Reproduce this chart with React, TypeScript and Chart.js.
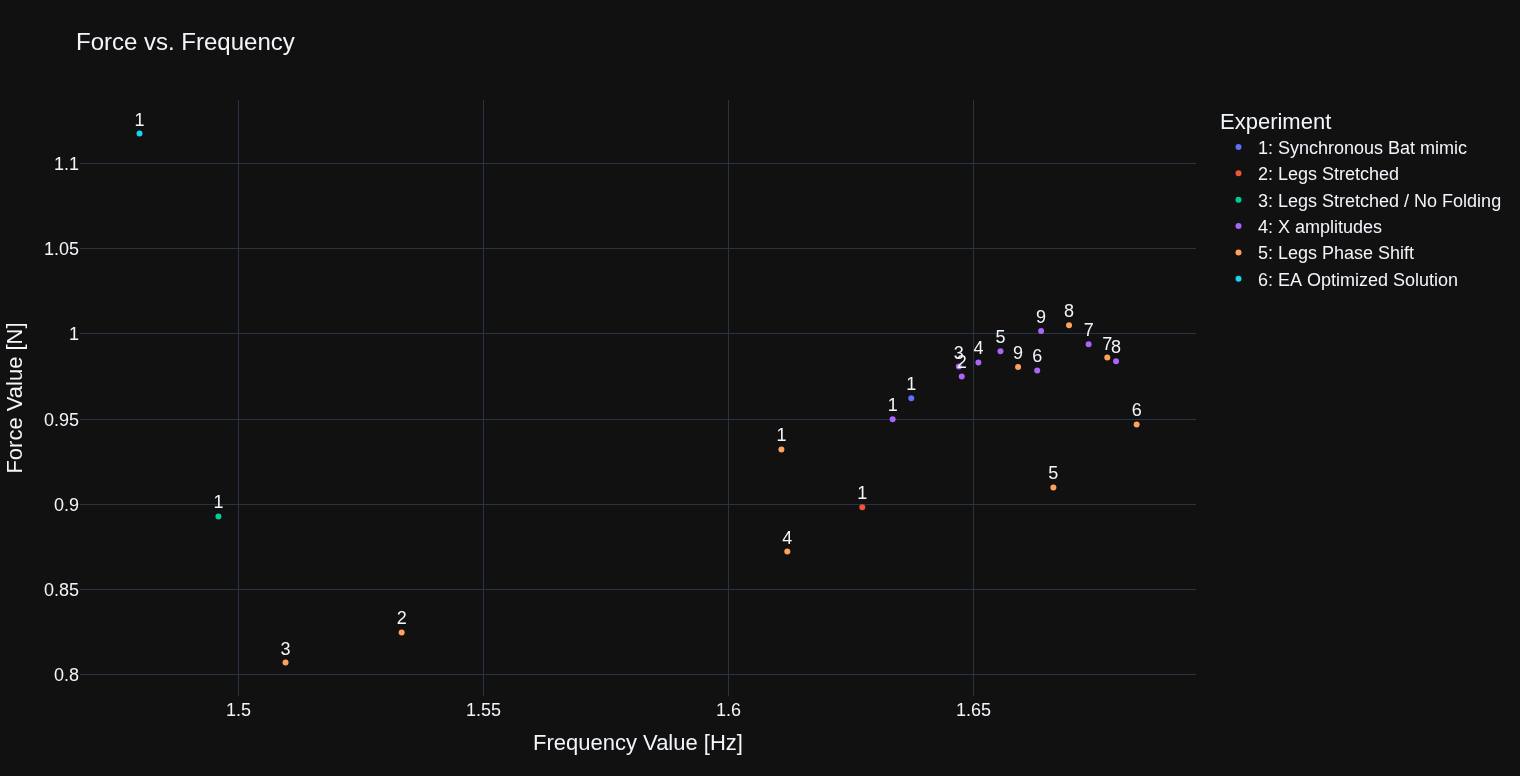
import React, { useEffect, useRef } from "react";
import { Chart, registerables } from "chart.js";

Chart.register(...registerables);

const FONT = "'Liberation Sans', Arial, sans-serif";
const TEXT = "#f2f5fa";
const GRID = "#283442";

const seriesNames = [
  "1: Synchronous Bat mimic",
  "2: Legs Stretched",
  "3: Legs Stretched / No Folding",
  "4: X amplitudes",
  "5: Legs Phase Shift",
  "6: EA Optimized Solution",
];
const seriesColors = ["#636efa", "#EF553B", "#00cc96", "#ab63fa", "#FFA15A", "#19d3f3"];

const s1Freq = [1.6373];
const s1Force = [0.9622];
const s1Labels = ["1"];

const s2Freq = [1.6273];
const s2Force = [0.8982];
const s2Labels = ["1"];

const s3Freq = [1.4959];
const s3Force = [0.8928];
const s3Labels = ["1"];

const s4Freq = [1.6335, 1.6476, 1.647, 1.651, 1.6555, 1.663, 1.6735, 1.6791, 1.6638];
const s4Force = [0.9499, 0.975, 0.9808, 0.9832, 0.9898, 0.9785, 0.9939, 0.9839, 1.0016];
const s4Labels = ["1", "2", "3", "4", "5", "6", "7", "8", "9"];

const s5Freq = [1.6108, 1.5333, 1.5096, 1.612, 1.6663, 1.6833, 1.6773, 1.6695, 1.6591];
const s5Force = [0.9321, 0.8247, 0.807, 0.8722, 0.9098, 0.9468, 0.9861, 1.0051, 0.9806];
const s5Labels = ["1", "2", "3", "4", "5", "6", "7", "8", "9"];

const s6Freq = [1.4798];
const s6Force = [1.1176];
const s6Labels = ["1"];

const allFreq = [s1Freq, s2Freq, s3Freq, s4Freq, s5Freq, s6Freq];
const allForce = [s1Force, s2Force, s3Force, s4Force, s5Force, s6Force];
const allLabels = [s1Labels, s2Labels, s3Labels, s4Labels, s5Labels, s6Labels];

const xRange = [1.467653, 1.695408];
const yRange = [0.787378, 1.13728];
const tickStep = 0.05;

const chartTitle = "Force vs. Frequency";
const xTitle = "Frequency Value [Hz]";
const yTitle = "Force Value [N]";
const legendTitle = "Experiment";

const fmt = (v: number) => String(parseFloat(Number(v).toFixed(2)));

const textPlugin = {
  id: "textPlugin",
  afterDatasetsDraw(chart: any) {
    const ctx = chart.ctx;
    const area = chart.chartArea;
    ctx.save();
    ctx.fillStyle = TEXT;
    // y tick labels, placed through the y scale
    const ys = chart.scales.y;
    ctx.font = `18px ${FONT}`;
    ctx.textAlign = "right";
    ctx.textBaseline = "alphabetic";
    ys.ticks.forEach((t: any) => {
      const py = ys.getPixelForValue(t.value);
      ctx.fillText(fmt(t.value), area.left - 1, py + 6.5);
    });
    // point labels
    ctx.textAlign = "center";
    chart.data.datasets.forEach((ds: any, i: number) => {
      const meta = chart.getDatasetMeta(i);
      meta.data.forEach((pt: any, j: number) => {
        ctx.fillText(allLabels[i][j], pt.x, pt.y - 8);
      });
    });
    // title
    ctx.textAlign = "left";
    ctx.font = `24px ${FONT}`;
    ctx.fillText(chartTitle, 76, 50);
    // x axis title
    ctx.font = `22px ${FONT}`;
    ctx.textAlign = "center";
    ctx.fillText(xTitle, (area.left + area.right) / 2, 750);
    // y axis title
    ctx.save();
    ctx.translate(22, (area.top + area.bottom) / 2);
    ctx.rotate(-Math.PI / 2);
    ctx.fillText(yTitle, 0, 0);
    ctx.restore();
    // legend
    ctx.textAlign = "left";
    ctx.font = `22px ${FONT}`;
    ctx.fillText(legendTitle, 1220, 129);
    ctx.font = `18px ${FONT}`;
    seriesNames.forEach((name, i) => {
      const base = 154 + i * 26.35;
      ctx.fillStyle = seriesColors[i];
      ctx.beginPath();
      ctx.arc(1238.5, base - 7, 3, 0, Math.PI * 2);
      ctx.fill();
      ctx.fillStyle = TEXT;
      ctx.fillText(name, 1258, base);
    });
    ctx.restore();
  },
};

export default function App() {
  const ref = useRef<HTMLCanvasElement | null>(null);
  useEffect(() => {
    document.body.style.margin = "0";
    document.body.style.background = "#111111";
    if (!ref.current) return;
    const chart = new Chart(ref.current, {
      type: "scatter",
      data: {
        datasets: seriesNames.map((name, i) => ({
          label: name,
          data: allFreq[i].map((x, j) => ({ x, y: allForce[i][j] })),
          backgroundColor: seriesColors[i],
          borderWidth: 0,
          pointRadius: 3,
          pointHoverRadius: 3,
        })),
      },
      options: {
        animation: false,
        responsive: false,
        maintainAspectRatio: false,
        layout: { padding: { top: 100, right: 324, left: 0, bottom: 0 } },
        plugins: {
          legend: { display: false },
          title: { display: false },
          tooltip: { enabled: false },
        },
        scales: {
          x: {
            type: "linear",
            min: xRange[0],
            max: xRange[1],
            afterFit: (s: any) => {
              s.height = 80;
            },
            border: { display: false },
            grid: { color: GRID, lineWidth: 1, drawTicks: false },
            ticks: {
              stepSize: tickStep,
              includeBounds: false,
              color: TEXT,
              font: { family: FONT, size: 18 },
              padding: 4,
              maxRotation: 0,
              callback: (v: any) => fmt(v),
            },
          },
          y: {
            type: "linear",
            min: yRange[0],
            max: yRange[1],
            afterFit: (s: any) => {
              s.width = 80;
            },
            border: { display: false },
            grid: { color: GRID, lineWidth: 1, drawTicks: false },
            ticks: {
              display: false,
              stepSize: tickStep,
              includeBounds: false,
              color: TEXT,
              font: { family: FONT, size: 18 },
              padding: 1,
              callback: (v: any) => fmt(v),
            },
          },
        },
      },
      plugins: [textPlugin],
    });
    return () => chart.destroy();
  }, []);
  return (
    <div style={{ width: 1520, height: 776, background: "#111111" }}>
      <canvas ref={ref} width={1520} height={776} style={{ display: "block", width: 1520, height: 776 }} />
    </div>
  );
}
